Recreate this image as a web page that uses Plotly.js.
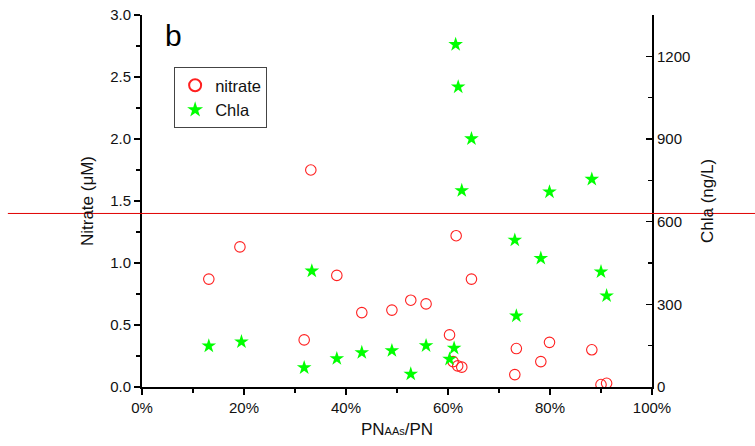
<!DOCTYPE html>
<html><head><meta charset="utf-8">
<script src="https://cdn.plot.ly/plotly-3.0.1.min.js"></script>
<style>body{margin:0;background:#fff}#c{width:755px;height:446px}</style>
</head><body><div id="c"></div>
<script>
const xNitrate = [13.1, 19.2, 31.8, 33.1, 38.2, 43.1, 49.0, 52.7, 55.7, 60.3, 61.0, 61.6, 61.9, 62.7, 64.6, 73.1, 73.4, 78.2, 79.9, 88.2, 90.0, 91.1];
const nitrate  = [0.87, 1.13, 0.38, 1.75, 0.90, 0.60, 0.62, 0.70, 0.67, 0.42, 0.205, 1.22, 0.17, 0.16, 0.87, 0.10, 0.31, 0.205, 0.36, 0.30, 0.02, 0.03];
const xChla    = [13.1, 19.5, 31.8, 33.3, 38.2, 43.1, 49.0, 52.7, 55.7, 60.3, 61.2, 61.5, 62.0, 62.7, 64.6, 73.1, 73.4, 78.2, 79.9, 88.2, 90.0, 91.1];
const chla     = [149, 164, 70, 421, 103, 125, 132, 47, 150, 101, 141, 1243, 1089, 713, 901, 533, 258, 467, 708, 754, 418, 331];
const xTicks = [0, 20, 40, 60, 80, 100];

const F = "Liberation Sans, Arial, sans-serif";
const traces = [
  {x: xNitrate, y: nitrate, name: 'nitrate', type: 'scatter', mode: 'markers', yaxis: 'y',
   marker: {symbol: 'circle-open', size: 10.5, color: '#ff2020', line: {width: 1.1, color: '#ff2020'}}},
  {x: xChla, y: chla, name: 'Chla', type: 'scatter', mode: 'markers', yaxis: 'y2',
   marker: {symbol: 'star', size: 11, color: '#00ff00', line: {width: 0}}}
];
const layout = {
  width: 755, height: 446,
  margin: {l: 142, r: 103, t: 15, b: 59.3},
  paper_bgcolor: '#fff', plot_bgcolor: '#fff',
  font: {family: F, size: 15, color: '#111'},
  showlegend: true,
  legend: {x: 0.063, y: 0.86, xanchor: 'left', yanchor: 'top', bgcolor: '#fff',
           bordercolor: '#444', borderwidth: 1, font: {size: 16.5, family: F},
           tracegroupgap: 0, itemsizing: 'constant'},
  xaxis: {range: [0, 100], tickvals: xTicks, ticktext: xTicks.map(v => v + '%'),
          showgrid: false, zeroline: false, showline: true, linecolor: '#000', linewidth: 2,
          ticks: 'outside', ticklen: 6, tickwidth: 1.5, tickcolor: '#000',
          minor: {dtick: 10, ticks: 'outside', ticklen: 4, tickwidth: 1.5, tickcolor: '#000', tick0: 0},
          tickfont: {size: 15, family: F},
          title: {text: 'PN<span style="font-size:11px">AAs</span>/PN', font: {size: 17, family: F}, standoff: 8}},
  yaxis: {range: [0, 3.0], dtick: 0.5, tickformat: '.1f',
          showgrid: false, zeroline: false, showline: true, linecolor: '#000', linewidth: 2,
          ticks: 'outside', ticklen: 6, tickwidth: 1.5, tickcolor: '#000',
          minor: {dtick: 0.25, ticks: 'outside', ticklen: 4, tickwidth: 1.5, tickcolor: '#000'},
          tickfont: {size: 15, family: F},
          title: {text: 'Nitrate (\u03bcM)', font: {size: 17, family: F}, standoff: 12}},
  yaxis2: {range: [0, 1350], tickvals: [0, 300, 600, 900, 1200], overlaying: 'y', side: 'right',
          showgrid: false, zeroline: false, showline: true, linecolor: '#000', linewidth: 2,
          ticks: 'inside', ticklen: 6, tickwidth: 1.5, tickcolor: '#000',
          minor: {dtick: 150, ticks: 'inside', ticklen: 4, tickwidth: 1.5, tickcolor: '#000'},
          tickfont: {size: 15, family: F},
          title: {text: 'Chla (ng/L)', font: {size: 17, family: F}, standoff: 12}},
  shapes: [{type: 'line', xref: 'paper', yref: 'paper', x0: -0.263, x1: 1.21, y0: 0.4665, y1: 0.4665,
            line: {color: '#e00000', width: 1}, layer: 'above'}],
  annotations: [{text: 'b', xref: 'paper', yref: 'paper', x: 0.041, y: 0.995, xanchor: 'left', yanchor: 'top',
                 showarrow: false, font: {size: 30, family: F, color: '#000'}}]
};
Plotly.newPlot('c', traces, layout, {displayModeBar: false, staticPlot: true});
</script></body></html>
